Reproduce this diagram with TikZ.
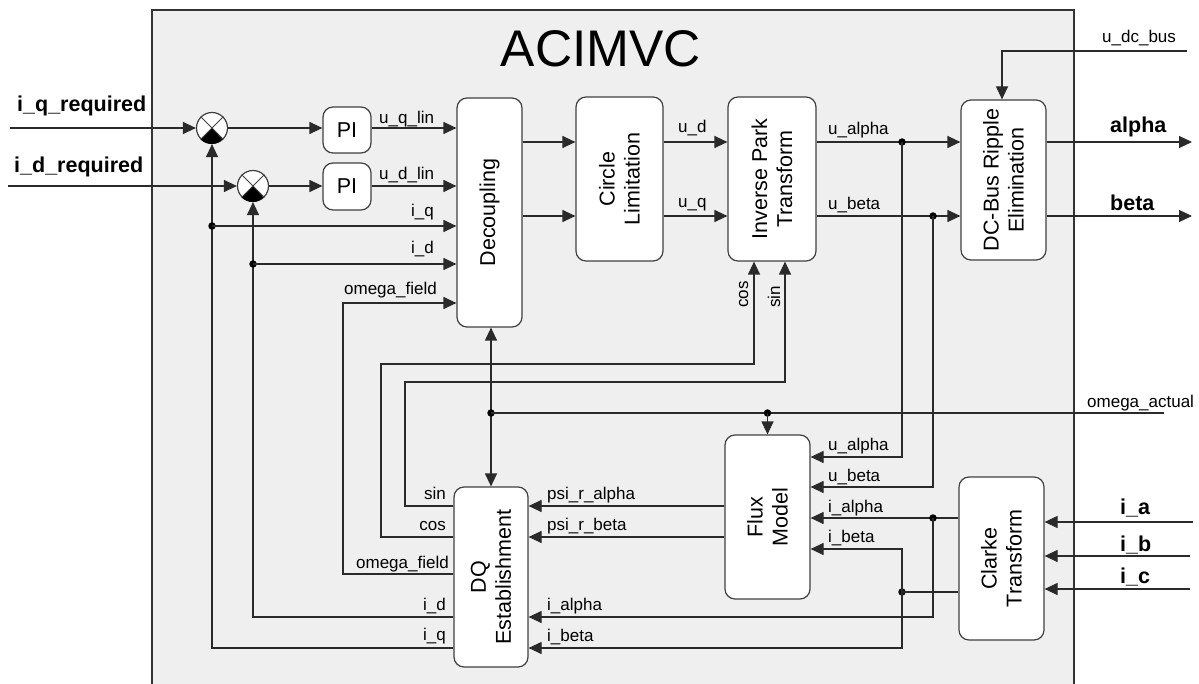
\documentclass[tikz,border=0pt]{standalone}
\usepackage{fontspec}
\setmainfont{Liberation Sans}
\usetikzlibrary{arrows.meta}
\definecolor{framefill}{HTML}{EFEFEF}
\definecolor{wirec}{HTML}{2A2A2A}
\begin{document}
\begin{tikzpicture}[x=1pt,y=-1pt,
  wire/.style={draw=wirec, line width=1.2pt},
  arr/.style={wire, -{Triangle[length=13pt,width=12pt]}},
  darr/.style={wire, {Triangle[length=13pt,width=12pt]}-{Triangle[length=13pt,width=12pt]}},
  box/.style={draw=black!75, fill=white, rounded corners=10pt, line width=1.2pt, inner sep=0pt},
  boxtxt/.style={rotate=90, align=center, font=\fontsize{21.5}{25}\selectfont, inner sep=0pt},
  lab/.style={font=\fontsize{17}{17}\selectfont, inner sep=0pt},
  blab/.style={font=\fontsize{21.5}{21.5}\selectfont\bfseries, inner sep=0pt},
  dot/.style={circle, fill=black, minimum size=7.5pt, inner sep=0pt},
  sum/.style={circle, draw=black!75, fill=white, line width=1.2pt, minimum size=31pt, inner sep=0pt}
]
\useasboundingbox (0,0) rectangle (1199,684);
% frame
\fill[framefill] (152,10) rectangle (1074,690);
\draw[black!80, line width=1.2pt] (152,690) -- (152,10) -- (1074,10) -- (1074,690);
\node[font=\fontsize{51.5}{51.5}\selectfont, anchor=base, inner sep=0pt] (title) at (601,67) {ACIMVC};

% sums
\node[sum] (s1) at (212,128) {};
\fill[black] (s1.center) -- (s1.-135) arc[start angle=-135,end angle=-45,radius=15.5pt] -- cycle;
\draw[black!75, line width=1pt] (s1.45) -- (s1.-135) (s1.135) -- (s1.-45);
\node[sum] (s2) at (253,186) {};
\fill[black] (s2.center) -- (s2.-135) arc[start angle=-135,end angle=-45,radius=15.5pt] -- cycle;
\draw[black!75, line width=1pt] (s2.45) -- (s2.-135) (s2.135) -- (s2.-45);

% boxes
\node[box, minimum width=48pt, minimum height=46pt, font=\fontsize{21.5}{21.5}\selectfont] (pi1) at (347,130) {PI};
\node[box, minimum width=48pt, minimum height=47pt, font=\fontsize{21.5}{21.5}\selectfont] (pi2) at (347,186.5) {PI};
\node[box, minimum width=65pt, minimum height=229pt] (dec) at (489.5,212.5) {};
\node[boxtxt] (dect) at (dec.center) {Decoupling};
\node[box, minimum width=87pt, minimum height=164pt] (cl) at (619.5,179) {};
\node[boxtxt] (clt) at (cl.center) {Circle\\Limitation};
\node[box, minimum width=88pt, minimum height=164pt] (ip) at (772,179) {};
\node[boxtxt] (ipt) at (ip.center) {Inverse Park\\Transform};
\node[box, minimum width=85pt, minimum height=160pt] (dcb) at (1003.5,180) {};
\node[boxtxt] (dcbt) at (dcb.center) {DC-Bus Ripple\\Elimination};
\node[box, minimum width=85pt, minimum height=164pt] (flux) at (767.5,517) {};
\node[boxtxt] (fluxt) at (flux.center) {Flux\\Model};
\node[box, minimum width=85pt, minimum height=163pt] (clk) at (1001.5,558.5) {};
\node[boxtxt] (clkt) at (clk.center) {Clarke\\Transform};
\node[box, minimum width=74pt, minimum height=180pt] (dq) at (491,577) {};
\node[boxtxt] (dqt) at (dq.center) {DQ\\Establishment};

% inputs
\coordinate (iqr) at (10,128);
\coordinate (idr) at (8,186);
\draw[arr] (iqr) -- (s1.west);
\draw[arr] (idr) -- (s2.west);
\draw[arr] (s1.east) -- (s1.east -| pi1.west);
\draw[arr] (s2.east) -- (s2.east -| pi2.west);
\draw[arr] (s1.east -| pi1.east) -- (s1.east -| dec.west);
\draw[arr] (s2.east -| pi2.east) -- (s2.east -| dec.west);

% feedback i_q, i_d
\draw[arr] (dq.west |- 0,648) -| (s1.south);
\node[dot] (jq) at (s1.south |- 0,226) {};
\draw[arr] (jq.center) -- (jq.center -| dec.west);
\draw[arr] (dq.west |- 0,617) -| (s2.south);
\node[dot] (jd) at (s2.south |- 0,264) {};
\draw[arr] (jd.center) -- (jd.center -| dec.west);
% omega_field
\draw[arr] (dq.west |- 0,574) -- (343,574) -- (343,303) -- (dec.west |- 0,303);
% sin, cos
\draw[arr] (dq.west |- 0,506) -- (405,506) -- (405,382) -- (785,382) -- (ip.south -| 785,0);
\draw[arr] (dq.west |- 0,537) -- (381,537) -- (381,364) -- (754,364) -- (ip.south -| 754,0);
% double arrow and omega_actual
\draw[darr] (dq.north |- dec.south) -- (dq.north);
\node[dot] (jw) at (dq.north |- 0,413) {};
\coordinate (oma) at (1164,413);
\draw[wire] (oma) -- (jw.center);
\node[dot] (jf) at (flux.north |- 0,413) {};
\draw[arr] (jf.center) -- (flux.north);

% forward chain
\draw[arr] (dec.east |- 0,142) -- (cl.west |- 0,142);
\draw[arr] (dec.east |- 0,216) -- (cl.west |- 0,216);
\draw[arr] (cl.east |- 0,142) -- (ip.west |- 0,142);
\draw[arr] (cl.east |- 0,216) -- (ip.west |- 0,216);
\draw[arr] (ip.east |- 0,142) -- (dcb.west |- 0,142);
\draw[arr] (ip.east |- 0,216) -- (dcb.west |- 0,216);
\coordinate (aout) at (1192,142);
\coordinate (bout) at (1192,216);
\draw[arr] (dcb.east |- aout) -- (aout);
\draw[arr] (dcb.east |- bout) -- (bout);
\coordinate (udc) at (1187,51);
\draw[arr] (udc) -- (1002,51) -- (dcb.north -| 1002,0);
\node[dot] (ja) at (902,142) {};
\draw[arr] (ja.center) -- (902,457) -- (flux.east |- 0,457);
\node[dot] (jb) at (933,216) {};
\draw[arr] (jb.center) -- (933,487) -- (flux.east |- 0,487);

% Clarke
\coordinate (ia) at (1193,522);
\coordinate (ib) at (1190,556);
\coordinate (ic) at (1190,589);
\draw[arr] (ia) -- (ia -| clk.east);
\draw[arr] (ib) -- (ib -| clk.east);
\draw[arr] (ic) -- (ic -| clk.east);
\draw[arr] (clk.west |- 0,518) -- (flux.east |- 0,518);
\node[dot] (jia) at (933,518) {};
\draw[arr] (jia.center) -- (933,617) -- (dq.east |- 0,617);
\node[dot] (jib) at (902,592) {};
\draw[wire] (clk.west |- jib) -- (jib.center);
\draw[arr] (jib.center) -- (902,549) -- (flux.east |- 0,549);
\draw[arr] (jib.center) -- (902,648) -- (dq.east |- 0,648);
% psi
\draw[arr] (flux.west |- 0,506) -- (dq.east |- 0,506);
\draw[arr] (flux.west |- 0,537) -- (dq.east |- 0,537);

% labels
\node[blab, anchor=base west] (l1) at (17,112) {i\_q\_required};
\node[blab, anchor=base west] (l2) at (14,173) {i\_d\_required};
\node[blab, anchor=base west] (l3) at (1110,133) {alpha};
\node[blab, anchor=base west] (l4) at (1110,211) {beta};
\node[blab, anchor=base west] (l5) at (1120,514) {i\_a};
\node[blab, anchor=base west] (l6) at (1120,551) {i\_b};
\node[blab, anchor=base west] (l7) at (1120,583) {i\_c};

\node[lab, anchor=base west] (m1) at (379,124) {u\_q\_lin};
\node[lab, anchor=base west] (m2) at (379,180) {u\_d\_lin};
\node[lab, anchor=base east] (m3) at (434,217) {i\_q};
\node[lab, anchor=base east] (m4) at (434,254) {i\_d};
\node[lab, anchor=base east] (m5) at (437,295) {omega\_field};
\node[lab, anchor=base west] (m6) at (678,133) {u\_d};
\node[lab, anchor=base west] (m7) at (678,208) {u\_q};
\node[lab, anchor=base west] (m8) at (828,135) {u\_alpha};
\node[lab, anchor=base west] (m9) at (828,210) {u\_beta};
\node[lab, anchor=base west] (m10) at (1102,43) {u\_dc\_bus};
\node[lab, anchor=base west] (m11) at (1087,407) {omega\_actual};
\node[lab, anchor=base west] (m12) at (828,450) {u\_alpha};
\node[lab, anchor=base west] (m13) at (828,481) {u\_beta};
\node[lab, anchor=base west] (m14) at (828,512) {i\_alpha};
\node[lab, anchor=base west] (m15) at (828,542) {i\_beta};
\node[lab, anchor=base east] (m16) at (446,499) {sin};
\node[lab, anchor=base east] (m17) at (446,530) {cos};
\node[lab, anchor=base east] (m18) at (449,568) {omega\_field};
\node[lab, anchor=base east] (m19) at (446,610) {i\_d};
\node[lab, anchor=base east] (m20) at (446,640) {i\_q};
\node[lab, anchor=base west] (m21) at (547,499) {psi\_r\_alpha};
\node[lab, anchor=base west] (m22) at (547,530) {psi\_r\_beta};
\node[lab, anchor=base west] (m23) at (547,610) {i\_alpha};
\node[lab, anchor=base west] (m24) at (547,641) {i\_beta};
\node[lab, anchor=base west, rotate=90] (m25) at (748,308) {cos};
\node[lab, anchor=base west, rotate=90] (m26) at (780,308) {sin};
\end{tikzpicture}
\end{document}
